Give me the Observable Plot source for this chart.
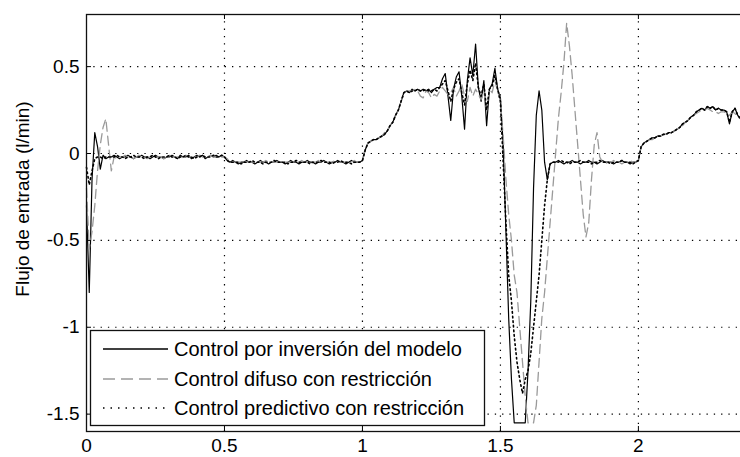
<!DOCTYPE html>
<html>
<head>
<meta charset="utf-8">
<script src="https://cdn.jsdelivr.net/npm/d3@7"></script>
<script src="https://cdn.jsdelivr.net/npm/@observablehq/plot@0.6"></script>
<style>
  html, body { margin: 0; padding: 0; background: #fff; }
  #chart { width: 740px; height: 457px; overflow: hidden; }
</style>
</head>
<body>
<div id="chart"></div>
<script>
// Time axis (minutes) sampled every 0.01
const time = [
  0.00,0.01,0.02,0.03,0.04,0.05,0.06,0.07,0.08,0.09,
  0.10,0.11,0.12,0.13,0.14,0.15,0.16,0.17,0.18,0.19,
  0.20,0.21,0.22,0.23,0.24,0.25,0.26,0.27,0.28,0.29,
  0.30,0.31,0.32,0.33,0.34,0.35,0.36,0.37,0.38,0.39,
  0.40,0.41,0.42,0.43,0.44,0.45,0.46,0.47,0.48,0.49,
  0.50,0.51,0.52,0.53,0.54,0.55,0.56,0.57,0.58,0.59,
  0.60,0.61,0.62,0.63,0.64,0.65,0.66,0.67,0.68,0.69,
  0.70,0.71,0.72,0.73,0.74,0.75,0.76,0.77,0.78,0.79,
  0.80,0.81,0.82,0.83,0.84,0.85,0.86,0.87,0.88,0.89,
  0.90,0.91,0.92,0.93,0.94,0.95,0.96,0.97,0.98,0.99,
  1.00,1.01,1.02,1.03,1.04,1.05,1.06,1.07,1.08,1.09,
  1.10,1.11,1.12,1.13,1.14,1.15,1.16,1.17,1.18,1.19,
  1.20,1.21,1.22,1.23,1.24,1.25,1.26,1.27,1.28,1.29,
  1.30,1.31,1.32,1.33,1.34,1.35,1.36,1.37,1.38,1.39,
  1.40,1.41,1.42,1.43,1.44,1.45,1.46,1.47,1.48,1.49,
  1.50,1.51,1.52,1.53,1.54,1.55,1.56,1.57,1.58,1.59,
  1.60,1.61,1.62,1.63,1.64,1.65,1.66,1.67,1.68,1.69,
  1.70,1.71,1.72,1.73,1.74,1.75,1.76,1.77,1.78,1.79,
  1.80,1.81,1.82,1.83,1.84,1.85,1.86,1.87,1.88,1.89,
  1.90,1.91,1.92,1.93,1.94,1.95,1.96,1.97,1.98,1.99,
  2.00,2.01,2.02,2.03,2.04,2.05,2.06,2.07,2.08,2.09,
  2.10,2.11,2.12,2.13,2.14,2.15,2.16,2.17,2.18,2.19,
  2.20,2.21,2.22,2.23,2.24,2.25,2.26,2.27,2.28,2.29,
  2.30,2.31,2.32,2.33,2.34,2.35,2.36,2.37
];

// Control por inversión del modelo (solid black)
const inversion = [
  -0.30,-0.80,-0.15,0.12,0.04,-0.09,-0.01,-0.03,-0.02,-0.02,
  -0.01,-0.02,-0.03,-0.02,-0.02,-0.01,-0.02,-0.03,-0.02,-0.02,
  -0.01,-0.02,-0.02,-0.03,-0.02,-0.01,-0.02,-0.02,-0.03,-0.02,
  -0.02,-0.01,-0.02,-0.03,-0.01,-0.02,-0.02,-0.01,-0.03,-0.02,
  -0.01,-0.02,-0.01,-0.03,-0.02,-0.01,-0.02,-0.01,-0.02,-0.01,
  -0.02,-0.04,-0.05,-0.04,-0.05,-0.06,-0.05,-0.05,-0.04,-0.05,
  -0.05,-0.06,-0.05,-0.04,-0.05,-0.05,-0.06,-0.05,-0.05,-0.04,
  -0.05,-0.05,-0.06,-0.05,-0.04,-0.05,-0.05,-0.06,-0.05,-0.05,
  -0.04,-0.05,-0.05,-0.06,-0.05,-0.05,-0.04,-0.05,-0.06,-0.05,
  -0.05,-0.04,-0.05,-0.05,-0.06,-0.05,-0.04,-0.05,-0.05,-0.05,
  -0.04,0.02,0.06,0.07,0.08,0.08,0.09,0.10,0.11,0.13,
  0.16,0.18,0.22,0.25,0.30,0.35,0.36,0.35,0.37,0.36,
  0.37,0.36,0.37,0.36,0.37,0.35,0.37,0.38,0.38,0.43,
  0.46,0.33,0.19,0.37,0.44,0.47,0.33,0.14,0.42,0.55,
  0.45,0.63,0.38,0.30,0.42,0.16,0.37,0.40,0.49,0.37,
  0.32,0.05,-0.45,-0.95,-1.30,-1.55,-1.55,-1.55,-1.55,-1.55,
  -1.25,-0.85,-0.20,0.22,0.36,0.25,-0.05,-0.15,-0.06,-0.05,
  -0.05,-0.04,-0.05,-0.06,-0.05,-0.05,-0.04,-0.05,-0.05,-0.06,
  -0.05,-0.05,-0.04,-0.05,-0.05,-0.06,-0.05,-0.04,-0.05,-0.05,
  -0.05,-0.06,-0.05,-0.05,-0.04,-0.05,-0.05,-0.06,-0.05,-0.05,
  -0.04,0.04,0.06,0.07,0.08,0.09,0.09,0.10,0.10,0.11,
  0.11,0.12,0.12,0.13,0.14,0.15,0.17,0.18,0.19,0.21,
  0.22,0.24,0.25,0.26,0.25,0.27,0.26,0.27,0.25,0.26,
  0.25,0.25,0.24,0.17,0.24,0.26,0.22,0.20
];

// Control difuso con restricción (gray dashed)
const difuso = [
  -0.20,-0.55,-0.45,-0.30,-0.10,0.05,0.15,0.20,0.05,-0.10,
  -0.02,-0.03,-0.02,-0.02,-0.01,-0.02,-0.02,-0.03,-0.02,-0.01,
  -0.02,-0.02,-0.03,-0.02,-0.01,-0.02,-0.02,-0.02,-0.03,-0.02,
  -0.01,-0.02,-0.02,-0.02,-0.03,-0.02,-0.01,-0.02,-0.02,-0.02,
  -0.02,-0.01,-0.02,-0.02,-0.02,-0.01,-0.02,-0.02,-0.01,-0.02,
  -0.02,-0.03,-0.05,-0.05,-0.05,-0.05,-0.05,-0.04,-0.05,-0.05,
  -0.05,-0.05,-0.05,-0.05,-0.05,-0.04,-0.05,-0.05,-0.05,-0.05,
  -0.05,-0.04,-0.05,-0.05,-0.05,-0.05,-0.05,-0.05,-0.04,-0.05,
  -0.05,-0.05,-0.05,-0.05,-0.04,-0.05,-0.05,-0.05,-0.05,-0.05,
  -0.04,-0.05,-0.05,-0.05,-0.05,-0.05,-0.05,-0.04,-0.05,-0.05,
  -0.04,0.03,0.06,0.07,0.08,0.09,0.09,0.10,0.12,0.13,
  0.16,0.18,0.22,0.25,0.30,0.34,0.36,0.36,0.36,0.37,
  0.36,0.33,0.32,0.36,0.35,0.32,0.34,0.33,0.36,0.38,
  0.36,0.34,0.35,0.38,0.33,0.36,0.40,0.33,0.30,0.38,
  0.33,0.37,0.34,0.31,0.36,0.25,0.37,0.35,0.42,0.36,
  0.30,0.10,-0.15,-0.35,-0.50,-0.70,-0.80,-1.00,-1.20,-1.40,
  -1.55,-1.55,-1.55,-1.45,-1.20,-0.95,-0.80,-0.60,-0.40,-0.20,
  0.00,0.20,0.35,0.52,0.75,0.62,0.45,0.25,0.05,-0.15,
  -0.35,-0.48,-0.40,-0.15,0.05,0.12,-0.02,-0.05,-0.06,-0.05,
  -0.05,-0.04,-0.05,-0.05,-0.06,-0.05,-0.05,-0.04,-0.05,-0.05,
  -0.04,0.04,0.06,0.07,0.08,0.08,0.09,0.10,0.10,0.11,
  0.11,0.12,0.12,0.13,0.14,0.15,0.16,0.18,0.19,0.21,
  0.22,0.23,0.24,0.25,0.25,0.26,0.25,0.24,0.24,0.23,
  0.24,0.24,0.23,0.22,0.24,0.23,0.21,0.20
];

// Control predictivo con restricción (black dotted)
const predictivo = [
  -0.08,-0.18,-0.10,-0.03,-0.02,-0.02,-0.03,-0.02,-0.02,-0.02,
  -0.02,-0.01,-0.02,-0.02,-0.03,-0.02,-0.02,-0.01,-0.02,-0.02,
  -0.02,-0.03,-0.02,-0.02,-0.01,-0.02,-0.03,-0.02,-0.02,-0.02,
  -0.01,-0.02,-0.02,-0.03,-0.02,-0.02,-0.01,-0.02,-0.02,-0.03,
  -0.02,-0.02,-0.01,-0.02,-0.02,-0.02,-0.01,-0.02,-0.02,-0.01,
  -0.02,-0.04,-0.05,-0.05,-0.05,-0.05,-0.06,-0.05,-0.05,-0.05,
  -0.04,-0.05,-0.05,-0.05,-0.06,-0.05,-0.05,-0.05,-0.04,-0.05,
  -0.05,-0.05,-0.05,-0.06,-0.05,-0.05,-0.04,-0.05,-0.05,-0.05,
  -0.05,-0.06,-0.05,-0.05,-0.05,-0.04,-0.05,-0.05,-0.05,-0.06,
  -0.05,-0.05,-0.04,-0.05,-0.05,-0.05,-0.06,-0.05,-0.05,-0.05,
  -0.04,0.02,0.06,0.07,0.08,0.08,0.09,0.10,0.11,0.13,
  0.16,0.18,0.22,0.25,0.30,0.35,0.36,0.35,0.36,0.36,
  0.37,0.36,0.36,0.37,0.36,0.36,0.37,0.36,0.38,0.40,
  0.42,0.36,0.30,0.37,0.41,0.43,0.35,0.28,0.40,0.48,
  0.42,0.52,0.38,0.33,0.40,0.25,0.37,0.39,0.45,0.37,
  0.30,-0.05,-0.40,-0.70,-0.85,-1.05,-1.20,-1.30,-1.38,-1.30,
  -1.25,-1.15,-1.00,-0.85,-0.70,-0.50,-0.30,-0.15,-0.06,-0.05,
  -0.05,-0.05,-0.04,-0.05,-0.05,-0.06,-0.05,-0.05,-0.05,-0.04,
  -0.05,-0.05,-0.05,-0.06,-0.05,-0.05,-0.04,-0.05,-0.05,-0.05,
  -0.06,-0.05,-0.05,-0.05,-0.04,-0.05,-0.05,-0.05,-0.06,-0.05,
  -0.04,0.04,0.06,0.07,0.08,0.09,0.09,0.10,0.10,0.11,
  0.11,0.12,0.12,0.13,0.14,0.15,0.17,0.18,0.19,0.21,
  0.22,0.24,0.25,0.26,0.25,0.27,0.26,0.27,0.25,0.26,
  0.25,0.25,0.24,0.18,0.24,0.26,0.22,0.20
];

const seriesNames = [
  "Control por inversión del modelo",
  "Control difuso con restricción",
  "Control predictivo con restricción"
];
const xTicks = [0, 0.5, 1, 1.5, 2];
const yTicks = [-1.5, -1, -0.5, 0, 0.5];
const yLabel = "Flujo de entrada (l/min)";

const rows = (vals) => time.map((t, i) => ({t, v: vals[i]}));
const d1 = rows(inversion), d2 = rows(difuso), d3s = rows(predictivo);

const W = 740, H = 457, mL = 86, mR = 0, mT = 14, mB = 26;
const innerW = W - mL - mR, innerH = H - mT - mB;
const gridStyle = {stroke: "#000", strokeWidth: 1.2, strokeDasharray: "1.3,6"};
const fmt = d => String(d);

const chart = Plot.plot({
  width: W, height: H,
  marginLeft: mL, marginRight: mR, marginTop: mT, marginBottom: mB,
  style: {fontFamily: "'Liberation Sans', Arial, sans-serif", fontSize: "19px", background: "#fff", color: "#000"},
  x: {domain: [0, 2.37]},
  y: {domain: [-1.6, 0.8]},
  marks: [
    Plot.ruleX(xTicks.slice(1), gridStyle),
    Plot.ruleY(yTicks, gridStyle),
    Plot.line(d1, {x: "t", y: "v", stroke: "#000", strokeWidth: 1.2}),
    Plot.line(d2, {x: "t", y: "v", stroke: "#9a9a9a", strokeWidth: 1.3, strokeDasharray: "9,5"}),
    Plot.line(d3s, {x: "t", y: "v", stroke: "#000", strokeWidth: 1.6, strokeDasharray: "1.6,3"}),
    // inward tick marks
    Plot.ruleX(xTicks, {stroke: "#000", insetTop: innerH - 5}),
    Plot.ruleX(xTicks, {stroke: "#000", insetBottom: innerH - 5}),
    Plot.ruleY(yTicks, {stroke: "#000", insetRight: innerW - 5}),
    Plot.frame({stroke: "#111", strokeWidth: 1.3, insetRight: -3}),
    Plot.axisX(xTicks, {tickSize: 0, tickPadding: 7, tickFormat: fmt, label: null, fill: "#000"}),
    Plot.axisY(yTicks, {tickSize: 0, tickPadding: 7, tickFormat: fmt, label: null, fill: "#000"}),
    Plot.text([yLabel], {frameAnchor: "left", textAnchor: "middle", dx: -64, dy: -24, rotate: -90, fontSize: 19, fill: "#000"})
  ]
});

document.getElementById("chart").appendChild(chart);

// Legend box (MATLAB style), drawn inside the axes at lower-left
const svg = d3.select(chart);
const lg = svg.append("g")
  .attr("font-family", "'Liberation Sans', Arial, sans-serif")
  .attr("font-size", 20)
  .attr("text-anchor", "start");
lg.append("rect").attr("x", 90.5).attr("y", 330.5).attr("width", 394).attr("height", 95)
  .attr("fill", "#fff").attr("stroke", "#111").attr("stroke-width", 1.3);
const legendStyles = [
  {stroke: "#000", dash: null, w: 1.3},
  {stroke: "#9a9a9a", dash: "12,6", w: 1.3},
  {stroke: "#000", dash: "1.5,6", w: 1.5}
];
const rowY = [349, 379, 408];
seriesNames.forEach((name, i) => {
  const s = legendStyles[i];
  const ln = lg.append("line").attr("x1", 103).attr("x2", 168).attr("y1", rowY[i]).attr("y2", rowY[i])
    .attr("stroke", s.stroke).attr("stroke-width", s.w);
  if (s.dash) ln.attr("stroke-dasharray", s.dash);
  lg.append("text").attr("x", 174).attr("y", rowY[i]).attr("dy", "0.36em")
    .attr("text-anchor", "start").attr("fill", "#000").text(name);
});
</script>
</body>
</html>
